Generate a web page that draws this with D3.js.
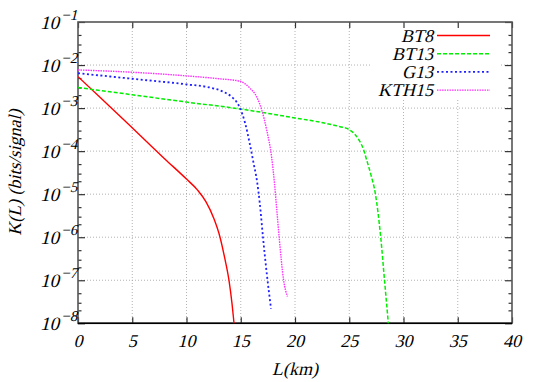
<!DOCTYPE html>
<html>
<head>
<meta charset="utf-8">
<script src="https://cdn.jsdelivr.net/npm/d3@7"></script>
<style>
body { margin: 0; background: #fff; }
</style>
</head>
<body>
<svg id="chart" width="545" height="382"></svg>
<script>
// values: L in km, K in bits/signal
var seriesNames = ["BT8", "BT13", "G13", "KTH15"];
var seriesColors = ["#ff0000", "#00ee00", "#2020ff", "#ff30ff"];

var bt8L = [0, 2, 4, 6, 8, 10, 11, 11.8, 12.5, 13.09, 13.5, 13.92, 14.2, 14.38, 14.5];
var bt8K = [5.37e-3, 1.82e-3, 6.03e-4, 2.0e-4, 6.6e-5, 2.24e-5, 1.26e-5, 6.6e-6, 2.8e-6, 1.0e-6, 3.5e-7, 9.8e-8, 2.8e-8, 1.0e-8, 5.0e-9];

var bt13L = [0, 5, 10, 15, 20, 22.3, 24.15, 25, 25.5, 25.9, 26.3, 26.6, 27.0, 27.4, 27.9, 28.25, 28.6, 28.7];
var bt13K = [3.0e-3, 2.04e-3, 1.38e-3, 9.5e-4, 5.9e-4, 4.7e-4, 3.7e-4, 3.16e-4, 2.5e-4, 1.8e-4, 1.12e-4, 6.3e-5, 2.8e-5, 1.05e-5, 1.0e-6, 1.0e-7, 1.0e-8, 5.0e-9];

var g13L = [0, 5, 10, 12.17, 13.4, 14.17, 14.6, 14.93, 15.4, 15.85, 16.2, 16.5, 16.75, 17.05, 17.4, 17.79];
var g13K = [6.45e-3, 4.8e-3, 3.55e-3, 3.0e-3, 2.4e-3, 1.82e-3, 1.41e-3, 1.0e-3, 4.5e-4, 1.41e-4, 5.0e-5, 2.0e-5, 6.3e-6, 1.0e-6, 1.41e-7, 2.2e-8];

var kth15L = [0, 5, 10, 13, 14.93, 15.85, 16.47, 16.93, 17.39, 17.85, 18.1, 18.3, 18.54, 18.95, 19.3];
var kth15K = [7.7e-3, 6.8e-3, 5.6e-3, 4.8e-3, 4.2e-3, 2.9e-3, 1.82e-3, 9.1e-4, 3.1e-4, 7.1e-5, 1.9e-5, 5.0e-6, 1.0e-6, 1.0e-7, 4.2e-8];

var xTicks = [0, 5, 10, 15, 20, 25, 30, 35, 40];
var yExponents = [-1, -2, -3, -4, -5, -6, -7, -8];
var yMinorSteps = [2, 3, 5];

var svg = d3.select("#chart");
var pLeft = 78, pRight = 512, pTop = 22, pBottom = 323.3;
var serifFont = "Liberation Serif, Times New Roman, Times, DejaVu Serif, serif";

var x = d3.scaleLinear().domain([0, 40]).range([pLeft, pRight]);
var y = d3.scaleLog().domain([1e-8, 1e-1]).range([pBottom, pTop]);

var seriesL = [bt8L, bt13L, g13L, kth15L];
var seriesK = [bt8K, bt13K, g13K, kth15K];
var series = seriesNames.map(function(name, i) {
	return {
		name: name,
		color: seriesColors[i],
		points: seriesL[i].map(function(l, j) { return [l, seriesK[i][j]]; })
	};
});

var yMajor = yExponents.map(function(e) { return Math.pow(10, e); });
var yMinor = [];
yExponents.slice(1).forEach(function(e) {
	yMinorSteps.forEach(function(m) { yMinor.push(m * Math.pow(10, e)); });
});

// slanted serif text (upright face sheared, like the gnuplot italic labels)
function slant(sel, tx, ty, rot) {
	sel.attr("x", 0).attr("y", 0)
		.style("font-family", serifFont)
		.style("font-style", "normal")
		.attr("transform", function(d, i) {
			var p = "translate(" + tx(d, i) + "," + ty(d, i) + ")";
			if (rot) p += " rotate(" + rot + ")";
			return p + " skewX(-14)";
		});
	return sel;
}

// grid
var grid = svg.append("g").attr("stroke", "#a0a0a0").attr("stroke-width", 0.8).attr("stroke-dasharray", "1,2");
grid.selectAll(".gx").data(xTicks.slice(1, -1)).enter().append("line")
	.attr("x1", function(d) { return x(d); }).attr("x2", function(d) { return x(d); })
	.attr("y1", pTop).attr("y2", pBottom);
grid.selectAll(".gy").data(yMajor.slice(1, -1)).enter().append("line")
	.attr("x1", pLeft).attr("x2", pRight)
	.attr("y1", function(d) { return y(d); }).attr("y2", function(d) { return y(d); });

// legend box hides the grid behind it
svg.append("rect").attr("x", 372).attr("y", pTop + 1).attr("width", 129).attr("height", 75).attr("fill", "#fff");

// axes, ticks drawn inward
var tick = function(axis) { return axis.tickFormat("").tickPadding(0); };
svg.append("g").attr("transform", "translate(" + pLeft + ",0)")
	.call(tick(d3.axisLeft(y).tickValues(yMajor).tickSize(-7)));
svg.append("g").attr("transform", "translate(" + pLeft + ",0)")
	.call(tick(d3.axisLeft(y).tickValues(yMinor).tickSize(-3.5)));
svg.append("g").attr("transform", "translate(" + pRight + ",0)")
	.call(tick(d3.axisRight(y).tickValues(yMajor).tickSize(-7)));
svg.append("g").attr("transform", "translate(" + pRight + ",0)")
	.call(tick(d3.axisRight(y).tickValues(yMinor).tickSize(-3.5)));
svg.append("g").attr("transform", "translate(0," + pBottom + ")")
	.call(tick(d3.axisBottom(x).tickValues(xTicks).tickSize(-6)));
svg.append("g").attr("transform", "translate(0," + pTop + ")")
	.call(tick(d3.axisTop(x).tickValues(xTicks).tickSize(-6)));
svg.selectAll(".domain").remove();
svg.selectAll(".tick line").attr("stroke", "#333").attr("stroke-width", 1.2);

// frame
svg.append("rect").attr("x", pLeft).attr("y", pTop).attr("width", pRight - pLeft).attr("height", pBottom - pTop)
	.attr("fill", "none").attr("stroke", "#555").attr("stroke-width", 1.6);
svg.append("line").attr("x1", pLeft).attr("x2", pRight).attr("y1", pBottom).attr("y2", pBottom)
	.attr("stroke", "#000").attr("stroke-width", 1.6);

// tick labels
slant(svg.append("g").selectAll("text").data(xTicks).enter().append("text"),
	function(d) { return x(d); }, function() { return 347; })
	.attr("text-anchor", "middle").style("font-size", "18px")
	.text(function(d) { return d; });

var yl = slant(svg.append("g").selectAll("text").data(yExponents).enter().append("text"),
	function() { return 75; }, function(d) { return y(Math.pow(10, d)) + 7; })
	.attr("text-anchor", "end").style("font-size", "19px");
yl.append("tspan").text("10");
yl.append("tspan").attr("dy", -9).style("font-size", "15px").text(function(d) { return "\u2212" + (-d); });

// axis titles
slant(svg.append("text"), function() { return (pLeft + pRight) / 2; }, function() { return 375; })
	.attr("text-anchor", "middle").style("font-size", "18px").text("L(km)");
slant(svg.append("text"), function() { return 21; }, function() { return (pTop + pBottom) / 2; }, -90)
	.attr("text-anchor", "middle").style("font-size", "18px").text("K(L) (bits/signal)");

// curves
svg.append("clipPath").attr("id", "plotclip").append("rect")
	.attr("x", pLeft).attr("y", pTop).attr("width", pRight - pLeft).attr("height", pBottom - pTop);

var dashes = [null, "4,2", "2,2.5", "1.5,1"];
var widths = [1.4, 1.5, 1.8, 1.4];
var line = d3.line()
	.x(function(d) { return x(d[0]); })
	.y(function(d) { return y(d[1]); })
	.curve(d3.curveMonotoneX);

svg.append("g").attr("clip-path", "url(#plotclip)")
	.selectAll("path").data(series).enter().append("path")
	.attr("d", function(d) { return line(d.points); })
	.attr("fill", "none")
	.attr("stroke", function(d) { return d.color; })
	.attr("stroke-width", function(d, i) { return widths[i]; })
	.attr("stroke-dasharray", function(d, i) { return dashes[i]; });

// legend
var leg = svg.append("g").selectAll("g").data(series).enter().append("g")
	.attr("transform", function(d, i) { return "translate(0," + (35.5 + i * 18.2) + ")"; });
slant(leg.append("text"), function() { return 433; }, function() { return 6; })
	.attr("text-anchor", "end")
	.style("font-size", "18px").text(function(d) { return d.name; });
leg.append("line").attr("x1", 437).attr("x2", 490).attr("y1", 0).attr("y2", 0)
	.attr("stroke", function(d) { return d.color; })
	.attr("stroke-width", function(d, i) { return widths[i]; })
	.attr("stroke-dasharray", function(d, i) { return dashes[i]; });
</script>
</body>
</html>
